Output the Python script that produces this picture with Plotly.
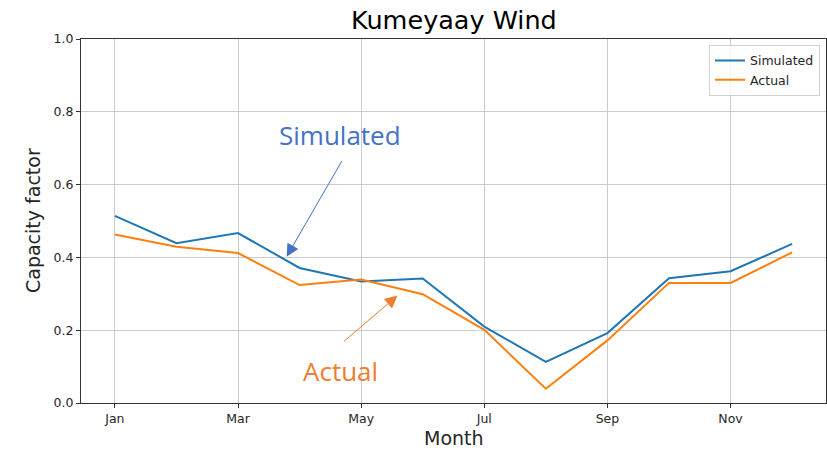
import plotly.graph_objects as go

months = ["Jan", "Feb", "Mar", "Apr", "May", "Jun", "Jul", "Aug", "Sep", "Oct", "Nov", "Dec"]
simulated = [0.514, 0.439, 0.467, 0.371, 0.334, 0.342, 0.210, 0.113, 0.192, 0.343, 0.362, 0.437]
actual = [0.463, 0.429, 0.412, 0.324, 0.339, 0.299, 0.201, 0.039, 0.172, 0.330, 0.330, 0.414]
tick_labels = ["Jan", "Mar", "May", "Jul", "Sep", "Nov"]
y_ticks = [0.0, 0.2, 0.4, 0.6, 0.8, 1.0]

idx = list(range(len(months)))
tick_idx = [months.index(m) for m in tick_labels]

fig = go.Figure()
fig.add_trace(go.Scatter(x=idx, y=simulated, mode="lines", name="Simulated",
                         line=dict(color="#1f77b4", width=2)))
fig.add_trace(go.Scatter(x=idx, y=actual, mode="lines", name="Actual",
                         line=dict(color="#ff7f0e", width=2)))

axis_font = dict(family="DejaVu Sans", size=12.5, color="#262626")
fig.update_layout(
    width=827, height=451,
    margin=dict(l=81, r=1, t=39, b=48, autoexpand=False),
    paper_bgcolor="white", plot_bgcolor="white",
    showlegend=True,
    legend=dict(x=0.992, y=0.984, xanchor="right", yanchor="top",
                bgcolor="rgba(255,255,255,0.8)", bordercolor="#d0d0d0", borderwidth=1,
                font=dict(family="DejaVu Sans", size=12.5, color="#262626"),
                itemwidth=30, tracegroupgap=0),
    xaxis=dict(range=[-0.55, 11.55], tickvals=tick_idx, ticktext=tick_labels,
               showgrid=True, gridcolor="#cbcbcb", gridwidth=1,
               showline=True, linecolor="#333333", linewidth=1, mirror=True,
               ticks="outside", ticklen=4, tickcolor="#333333",
               tickfont=axis_font, zeroline=False),
    yaxis=dict(range=[0, 1.0], tickvals=y_ticks, tickformat=".1f",
               showgrid=True, gridcolor="#cbcbcb", gridwidth=1,
               showline=True, linecolor="#333333", linewidth=1, mirror=True,
               ticks="outside", ticklen=4, tickcolor="#333333",
               tickfont=axis_font, zeroline=False),
)

# Title and axis titles
fig.add_annotation(text="Kumeyaay Wind", xref="paper", yref="paper", x=0.5, y=1.0,
                   yshift=19, showarrow=False, xanchor="center", yanchor="middle",
                   font=dict(family="DejaVu Sans", size=25.5, color="black"))
fig.add_annotation(text="Month", xref="paper", yref="paper", x=0.5, y=0,
                   yshift=-35, showarrow=False, xanchor="center", yanchor="middle",
                   font=dict(family="DejaVu Sans", size=19, color="#262626"))
fig.add_annotation(text="Capacity factor", xref="paper", yref="paper", x=0, y=0.5,
                   xshift=-48, showarrow=False, xanchor="center", yanchor="middle",
                   textangle=-90,
                   font=dict(family="DejaVu Sans", size=19, color="#262626"))

# Callout annotations
fig.add_annotation(x=2.79, y=0.402, xref="x", yref="y", ax=56, ay=-97,
                   axref="pixel", ayref="pixel", text="", showarrow=True,
                   arrowhead=2, arrowsize=2.5, arrowwidth=1, arrowcolor="#4472C4")
fig.add_annotation(x=3.65, y=0.735, xref="x", yref="y", text="Simulated", showarrow=False,
                   font=dict(family="Open Sans", size=26, color="#4472C4"))
fig.add_annotation(x=3.66, y=0.088, xref="x", yref="y", text="Actual", showarrow=False,
                   font=dict(family="Open Sans", size=26, color="#ED7D31"))
fig.add_annotation(x=4.59, y=0.295, xref="x", yref="y", ax=-55, ay=47,
                   axref="pixel", ayref="pixel", text="", showarrow=True,
                   arrowhead=2, arrowsize=2.5, arrowwidth=1, arrowcolor="#ED7D31")

fig.write_html("out.html", config={"displayModeBar": False},
               post_script="document.body.style.margin='0';document.body.style.overflow='hidden';")
